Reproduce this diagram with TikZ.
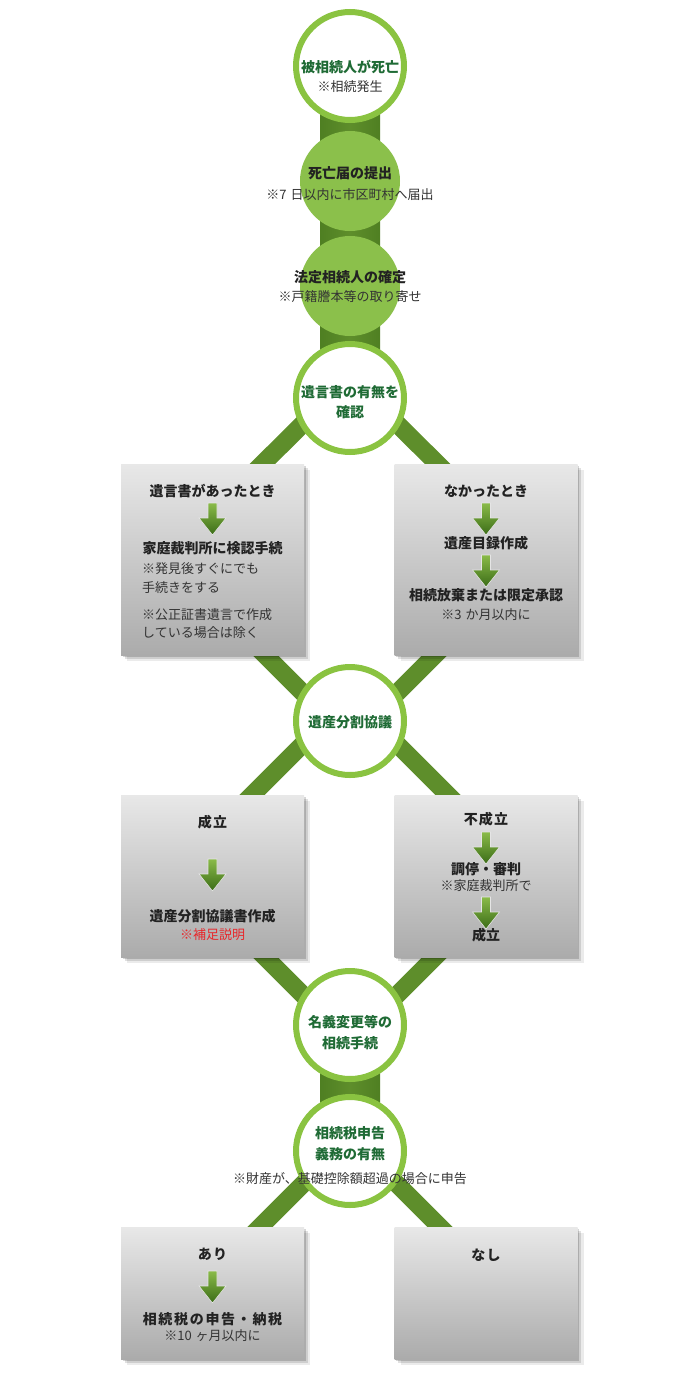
\documentclass[tikz,border=0pt]{standalone}
\usepackage{fontspec}
\setmainfont{Noto Sans CJK JP}
\usetikzlibrary{shadows,calc}
\definecolor{ringgreen}{HTML}{8AC341}
\definecolor{ballgreen}{HTML}{8BC04B}
\definecolor{trunkgreen}{HTML}{5E8E2B}
\definecolor{trunkdark}{HTML}{4F7F22}
\definecolor{titlegreen}{HTML}{1F6B35}
\definecolor{darktext}{HTML}{222222}
\definecolor{notetext}{HTML}{333333}
\definecolor{redtext}{HTML}{E8262A}
\definecolor{boxtop}{HTML}{E8E8E8}
\definecolor{boxbot}{HTML}{ABABAB}
\definecolor{arrtop}{HTML}{8ABB49}
\definecolor{arrbot}{HTML}{3B6C17}
\begin{document}
\begin{tikzpicture}[x=1pt,y=-1pt,
  ringnode/.style={circle, draw=ringgreen, line width=6pt, fill=white, minimum size=108pt, inner sep=0pt},
  ballnode/.style={circle, fill=ballgreen, minimum size=100pt, inner sep=0pt},
  ttltext/.style={font=\bfseries\fontsize{14}{16}\selectfont, text=titlegreen, inner sep=0pt},
  hdtext/.style={font=\bfseries\fontsize{14}{16}\selectfont, text=darktext, inner sep=0pt},
  nttext/.style={font=\fontsize{13}{15}\selectfont, text=notetext, inner sep=0pt},
  spaced/.style={font=\bfseries\fontsize{14}{16}\selectfont\addfontfeatures{LetterSpace=8}},
  widespaced/.style={font=\bfseries\fontsize{14}{16}\selectfont\addfontfeatures{LetterSpace=12}},
  barline/.style={draw=trunkgreen, line width=18pt},
  trunkbar/.style={left color=trunkdark, right color=trunkdark, middle color=trunkgreen},
  flowbox/.style={rectangle, minimum width=183pt, inner sep=0pt, top color=boxtop, bottom color=boxbot,
    drop shadow={shadow xshift=1.5pt, shadow yshift=-1.5pt, opacity=.16, fill=black},
    drop shadow={shadow xshift=3.5pt, shadow yshift=-3.5pt, opacity=.12, fill=black},
    drop shadow={shadow xshift=6pt, shadow yshift=-6pt, opacity=.08, fill=black}},
  dnarrow/.pic={\path[top color=arrtop, bottom color=arrbot, draw=white!80!gray, line width=0.6pt]
     (-4.5,0) -- (4.5,0) -- (4.5,15) -- (13.5,15) -- (0,32) -- (-13.5,15) -- (-4.5,15) -- cycle;},
]
\useasboundingbox (0,0) rectangle (700,1400);
\fill[white] (0,0) rectangle (700,1400);

% vertical trunks
\path[trunkbar] (320,100) rectangle (380,360);
\path[trunkbar] (320,1060) rectangle (380,1110);

% hidden ends of diagonal bars
\coordinate (v4) at (350,377);
\coordinate (v5a) at (350,740);
\coordinate (v5b) at (350,697);
\coordinate (v6) at (350,1042);
\coordinate (v7) at (350,1137);
\coordinate (s1) at (206,520);
\coordinate (s2) at (494,520);
\coordinate (s3) at (210,600);
\coordinate (s4) at (490,600);
\coordinate (s5) at (197,850);
\coordinate (s6) at (503,850);
\coordinate (s7) at (210,902);
\coordinate (s8) at (490,902);
\coordinate (s9) at (207,1280);
\coordinate (s10) at (493,1280);

% diagonal bars
\draw[barline] (v4) -- (s1);
\draw[barline] (v4) -- (s2);
\draw[barline] (s3) -- (v5a);
\draw[barline] (s4) -- (v5a);
\draw[barline] (v5b) -- (s5);
\draw[barline] (v5b) -- (s6);
\draw[barline] (s7) -- (v6);
\draw[barline] (s8) -- (v6);
\draw[barline] (v7) -- (s9);
\draw[barline] (v7) -- (s10);

% boxes
\node[flowbox, minimum height=191pt] (b1) at (212.5,559.5) {};
\node[flowbox, minimum height=191pt] (b2) at (486,559.5) {};
\node[flowbox, minimum height=162pt] (b3) at (212.5,876) {};
\node[flowbox, minimum height=162pt] (b4) at (486,876) {};
\node[flowbox, minimum height=132pt] (b5) at (212.5,1293) {};
\node[flowbox, minimum height=132pt] (b6) at (486,1293) {};

% circles
\node[ringnode] (c1) at (350,66) {};
\node[ballnode] (c2) at (350,181) {};
\node[ballnode] (c3) at (350,286) {};
\node[ringnode] (c4) at (350,398) {};
\node[ringnode] (c5) at (350,721) {};
\node[ringnode] (c6) at (350,1025) {};
\node[ringnode] (c7) at (350,1151) {};

% circle texts
\node[ttltext] (t1a) at (350,67) {被相続人が死亡};
\node[nttext] (t1b) at (350,87) {※相続発生};
\node[hdtext] (t2a) at (350,173) {死亡届の提出};
\node[nttext] (t2b) at (350,195) {※7\hspace{4pt}日以内に市区町村へ届出};
\node[hdtext] (t3a) at (350,277) {法定相続人の確定};
\node[nttext] (t3b) at (350,297) {※戸籍謄本等の取り寄せ};
\node[ttltext] (t4a) at (350,392) {遺言書の有無を};
\node[ttltext] (t4b) at (350,412) {確認};
\node[ttltext] (t5) at (350,722) {遺産分割協議};
\node[ttltext] (t6a) at (350,1022) {名義変更等の};
\node[ttltext] (t6b) at (350,1043) {相続手続};
\node[ttltext] (t7a) at (350,1133) {相続税申告};
\node[ttltext] (t7b) at (350,1154) {義務の有無};
\node[nttext] (t7c) at (350,1179) {※財産が、基礎控除額超過の場合に申告};

% box 1
\node[hdtext] (h1) at (212.5,491) {遺言書があったとき};
\pic (a1) at (212.5,503) {dnarrow};
\node[hdtext] (h1b) at (212.5,548) {家庭裁判所に検認手続};
\node[nttext, anchor=west] (n1a) at (142,569) {※発見後すぐにでも};
\node[nttext, anchor=west] (n1b) at (142,588) {手続きをする};
\node[nttext, anchor=west] (n1c) at (142,615) {※公正証書遺言で作成};
\node[nttext, anchor=west] (n1d) at (142,633) {している場合は除く};

% box 2
\node[hdtext] (h2) at (486,491) {なかったとき};
\pic (a2) at (486,503) {dnarrow};
\node[hdtext] (h2b) at (486,543) {遺産目録作成};
\pic (a3) at (486,555) {dnarrow};
\node[hdtext] (h2c) at (486,595) {相続放棄または限定承認};
\node[nttext] (n2) at (486,615) {※3\hspace{4pt}か月以内に};

% box 3
\node[hdtext, spaced] (h3) at (212.5,822) {成立};
\pic (a4) at (212.5,859) {dnarrow};
\node[hdtext] (h3b) at (212.5,916) {遺産分割協議書作成};
\node[nttext, text=redtext] (n3) at (212.5,935) {※補足説明};

% box 4
\node[hdtext, spaced] (h4) at (486,819) {不成立};
\pic (a5) at (486,832) {dnarrow};
\node[hdtext] (h4b) at (486,869) {調停・審判};
\node[nttext] (n4) at (486,886) {※家庭裁判所で};
\pic (a6) at (486,897) {dnarrow};
\node[hdtext] (h4c) at (486,935) {成立};

% box 5
\node[hdtext, spaced] (h5) at (212.5,1254) {あり};
\pic (a7) at (212.5,1271) {dnarrow};
\node[hdtext, widespaced] (h5b) at (212.5,1319) {相続税の申告・納税};
\node[nttext] (n5) at (212.5,1336) {※10\hspace{4pt}ヶ月以内に};

% box 6
\node[hdtext, spaced] (h6) at (486,1255) {なし};
\end{tikzpicture}
\end{document}
